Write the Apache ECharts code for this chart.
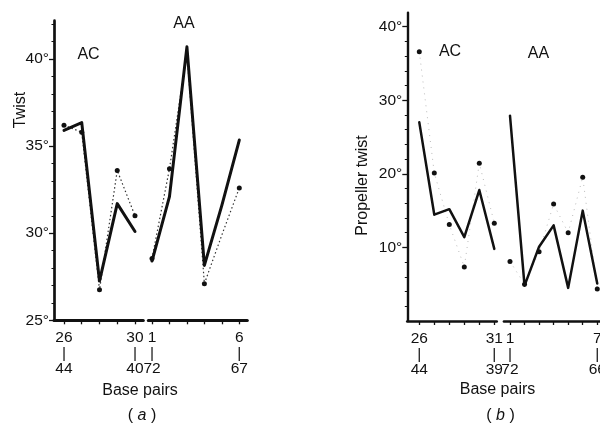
<!DOCTYPE html>
<html>
<head>
<meta charset="utf-8">
<script src="https://cdn.jsdelivr.net/npm/echarts@6/dist/echarts.min.js"></script>
<style>
  html, body { margin: 0; padding: 0; background: #fff; }
  #chart { width: 600px; height: 424px; }
</style>
</head>
<body>
<div id="chart"></div>
<script>
// ---- Panel (a): twist ----
const acStepsA = [26, 27, 28, 29, 30];
const acMatesA = [44, 43, 42, 41, 40];
const aaStepsA = [1, 2, 3, 4, 5, 6];
const aaMatesA = [72, 71, 70, 69, 68, 67];
const twistAcSolid  = [35.9, 36.35, 27.25, 31.7, 30.1];
const twistAcDotted = [36.2, 35.8, 26.75, 33.6, 31.0];
const twistAaSolid  = [28.4, 32.1, 40.7, 28.15, 31.6, 35.35];
const twistAaDotted = [28.55, 33.7, 40.35, 27.1, 29.9, 32.6];
const twistMajorTicks = [25, 30, 35, 40];
const twistMinorTicks = [26, 27, 28, 29, 31, 32, 33, 34, 36, 37, 38, 39, 41, 42];

// ---- Panel (b): propeller twist ----
const acStepsB = [26, 27, 28, 29, 30, 31];
const acMatesB = [44, 43, 42, 41, 40, 39];
const aaStepsB = [1, 2, 3, 4, 5, 6, 7];
const aaMatesB = [72, 71, 70, 69, 68, 67, 66];
const propAcSolid  = [27.0, 14.45, 15.2, 11.4, 17.8, 9.8];
const propAcDotted = [36.6, 20.1, 13.1, 7.35, 21.45, 13.3];
const propAaSolid  = [27.9, 4.8, 10.1, 13.0, 4.5, 15.0, 5.1];
const propAaDotted = [8.1, 5.0, 9.4, 15.9, 12.0, 19.55, 4.35];
const propMajorTicks = [10, 20, 30, 40];
const propMinorTicks = [2, 4, 6, 8, 12, 14, 16, 18, 22, 24, 26, 28, 32, 34, 36, 38, 40];

const FONT = '"Liberation Sans", Arial, Helvetica, sans-serif';
const INK = '#111';

function zip(xs, ys) { return xs.map((x, i) => [x, ys[i]]); }

// Label only the first and last step of a segment, with its partner base below
function pairLabel(steps, mates) {
  const first = steps[0], last = steps[steps.length - 1];
  return {
    customValues: [first, last],
    formatter: v => {
      const i = steps.indexOf(v);
      return i < 0 ? '' : v + '\n|\n' + mates[i];
    }
  };
}

function xAxisFor(gridIndex, min, max, steps, mates, lineWidth) {
  const pl = pairLabel(steps, mates);
  return {
    type: 'value', gridIndex, min, max,
    axisLine: { show: true, onZero: false, lineStyle: { color: INK, width: lineWidth } },
    axisTick: { show: true, customValues: steps, length: 4, lineStyle: { color: INK, width: 1.3 } },
    axisLabel: {
      show: true, customValues: pl.customValues, formatter: pl.formatter,
      color: INK, fontFamily: FONT, fontSize: 15.5, lineHeight: 15.5, margin: 10
    },
    splitLine: { show: false }
  };
}

function yMain(gridIndex, min, max, majors, lineWidth) {
  return {
    type: 'value', gridIndex, min, max, position: 'left',
    axisLine: { show: true, onZero: false, lineStyle: { color: INK, width: lineWidth } },
    axisTick: { show: true, customValues: majors, length: 5, lineStyle: { color: INK, width: 1.3 } },
    axisLabel: {
      show: true, customValues: majors, formatter: '{value}°',
      color: INK, fontFamily: FONT, fontSize: 15.5, margin: 5
    },
    splitLine: { show: false }
  };
}

function yMinor(gridIndex, min, max, minors) {
  return {
    type: 'value', gridIndex, min, max, position: 'left',
    axisLine: { show: false },
    axisTick: { show: true, customValues: minors, length: 2.5, lineStyle: { color: INK, width: 1 } },
    axisLabel: { show: false },
    splitLine: { show: false }
  };
}

function yHidden(gridIndex, min, max) {
  return { type: 'value', gridIndex, min, max, show: false, splitLine: { show: false } };
}

function solid(xi, yi, steps, values, width) {
  return {
    type: 'line', xAxisIndex: xi, yAxisIndex: yi, data: zip(steps, values),
    symbol: 'none', z: 3,
    lineStyle: { color: INK, width, join: 'round', cap: 'round' }
  };
}

function dotted(xi, yi, steps, values, opts) {
  const hidden = opts.hideDots || [];
  return {
    type: 'line', xAxisIndex: xi, yAxisIndex: yi, data: zip(steps, values),
    symbol: 'circle', z: 2,
    symbolSize: (val, p) => hidden.indexOf(p.dataIndex) >= 0 ? 0 : opts.dot,
    itemStyle: { color: INK, borderWidth: 0 },
    lineStyle: { color: opts.color, width: opts.width, type: opts.dash }
  };
}

const aMin = 25, aMax = 42.2;
const bMin = 0, bMax = 41.9;

const grids = [
  { left: 54, top: 20.7, width: 89.3, height: 299.6 },     // a: AC
  { left: 148.3, top: 20.7, width: 99, height: 299.6 },    // a: AA
  { left: 407.3, top: 12.7, width: 89.4, height: 308.3 },  // b: AC
  { left: 504, top: 12.7, width: 107.8, height: 308.3 }    // b: AA
].map(g => Object.assign({ containLabel: false, outerBoundsMode: 'none' }, g));

const option = {
  backgroundColor: '#fff',
  animation: false,
  grid: grids,
  xAxis: [
    xAxisFor(0, 25.437, 30.468, acStepsA, acMatesA, 3),
    xAxisFor(1, 0.788, 6.458, aaStepsA, aaMatesA, 3),
    xAxisFor(2, 25.2, 31.16, acStepsB, acMatesB, 2.7),
    xAxisFor(3, 0.588, 8.0, aaStepsB, aaMatesB, 2.7)
  ],
  yAxis: [
    yMain(0, aMin, aMax, twistMajorTicks, 2.7),
    yMinor(0, aMin, aMax, twistMinorTicks),
    yHidden(1, aMin, aMax),
    yMain(2, bMin, bMax, propMajorTicks, 2.4),
    yMinor(2, bMin, bMax, propMinorTicks),
    yHidden(3, bMin, bMax)
  ],
  series: [
    dotted(0, 0, acStepsA, twistAcDotted, { dot: 5, color: '#333', width: 1.2, dash: [1.5, 2.5] }),
    solid(0, 0, acStepsA, twistAcSolid, 3),
    dotted(1, 2, aaStepsA, twistAaDotted, { dot: 5, color: '#333', width: 1.2, dash: [1.5, 2.5], hideDots: [2, 4] }),
    solid(1, 2, aaStepsA, twistAaSolid, 3),
    dotted(2, 3, acStepsB, propAcDotted, { dot: 5, color: '#aaa', width: 0.8, dash: [1, 5] }),
    solid(2, 3, acStepsB, propAcSolid, 2.5),
    dotted(3, 5, aaStepsB, propAaDotted, { dot: 5, color: '#aaa', width: 0.8, dash: [1, 5] }),
    solid(3, 5, aaStepsB, propAaSolid, 2.5)
  ],
  graphic: [
    { type: 'text', x: 88.5, y: 54.5, style: { text: 'AC', font: '16px ' + FONT, fill: INK, textAlign: 'center', textVerticalAlign: 'middle' } },
    { type: 'text', x: 184, y: 24, style: { text: 'AA', font: '16px ' + FONT, fill: INK, textAlign: 'center', textVerticalAlign: 'middle' } },
    { type: 'text', x: 21, y: 110, rotation: Math.PI / 2, style: { text: 'Twist', font: '16px ' + FONT, fill: INK, textAlign: 'center', textVerticalAlign: 'middle' } },
    { type: 'text', x: 140, y: 391, style: { text: 'Base pairs', font: '16px ' + FONT, fill: INK, textAlign: 'center', textVerticalAlign: 'middle' } },
    { type: 'text', x: 142, y: 416, style: { text: '( {i|a} )', font: '16px ' + FONT, fill: INK, textAlign: 'center', textVerticalAlign: 'middle',
      rich: { i: { fontStyle: 'italic', fontFamily: FONT, fontSize: 16 } } } },

    { type: 'text', x: 450, y: 52, style: { text: 'AC', font: '16px ' + FONT, fill: INK, textAlign: 'center', textVerticalAlign: 'middle' } },
    { type: 'text', x: 538.5, y: 53.5, style: { text: 'AA', font: '16px ' + FONT, fill: INK, textAlign: 'center', textVerticalAlign: 'middle' } },
    { type: 'text', x: 363, y: 185.5, rotation: Math.PI / 2, style: { text: 'Propeller twist', font: '16px ' + FONT, fill: INK, textAlign: 'center', textVerticalAlign: 'middle' } },
    { type: 'text', x: 497.5, y: 390, style: { text: 'Base pairs', font: '16px ' + FONT, fill: INK, textAlign: 'center', textVerticalAlign: 'middle' } },
    { type: 'text', x: 500.5, y: 416, style: { text: '( {i|b} )', font: '16px ' + FONT, fill: INK, textAlign: 'center', textVerticalAlign: 'middle',
      rich: { i: { fontStyle: 'italic', fontFamily: FONT, fontSize: 16 } } } }
  ]
};

const chart = echarts.init(document.getElementById('chart'), null, { renderer: 'canvas' });
chart.setOption(option);
</script>
</body>
</html>
